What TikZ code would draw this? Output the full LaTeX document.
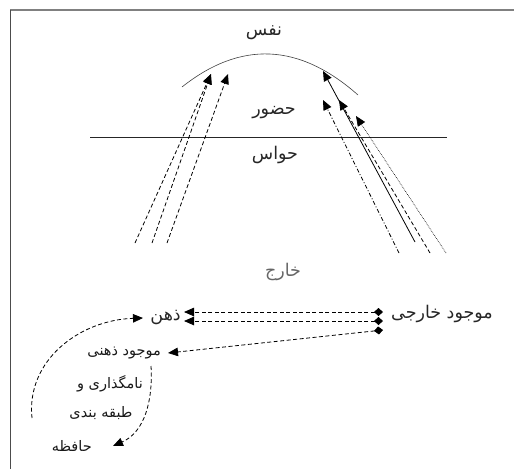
\documentclass[tikz,border=0pt]{standalone}
\usepackage{fontspec}
\usetikzlibrary{arrows.meta}
\newfontfamily\arabicfont[Script=Arabic]{DejaVu Sans}
\TeXXeTstate=1
\newcommand\prs[1]{{\arabicfont\beginR #1\endR}}
\tikzset{
  lbl/.style={inner sep=0pt, text=black!85, font=\fontsize{17.5}{19}\selectfont},
  slbl/.style={inner sep=0pt, text=black!90, font=\fontsize{14.5}{16}\selectfont},
  tip/.style={-{Triangle[length=10pt,width=8.5pt]}},
  dtip/.style={{Diamond[length=9pt,width=8pt]}-{Triangle[length=10pt,width=8.5pt]}},
  dsh/.style={dash pattern=on 4pt off 2.5pt, line width=0.8pt},
  dshdot/.style={dash pattern=on 4pt off 2pt on 1pt off 2pt, line width=0.8pt},
  dtt/.style={dash pattern=on 0.7pt off 1pt, line width=0.6pt},
}
\begin{document}
\begin{tikzpicture}[x=1pt,y=-1pt]
\useasboundingbox (0,0) rectangle (514,469);
% frame
\draw[gray, line width=1.5pt] (10,10) -- (514,10);
\draw[black!70, line width=1pt] (10,10) -- (10,469);

% labels
\node[lbl] (nafs) at (264,33) {\prs{نفس}};
\node[lbl] (hozur) at (274,113) {\prs{حضور}};
\node[lbl] (havas) at (275,155) {\prs{حواس}};
\node[lbl, text=black!60] (kharej) at (283,272) {\prs{خارج}};

% arc and line
\draw[black!75, line width=0.6pt] (182,87) .. controls (240.7,40.4) and (299.3,43) .. (358,95);
\draw[black!85, line width=0.6pt] (90,137) -- (447,137);

% left arrows
\coordinate (l1) at (135,243);
\coordinate (l2) at (152,243);
\coordinate (l3) at (167,243);
\coordinate (lh1) at (211,74);
\coordinate (lh2) at (228,74);
\draw[dsh, tip] (l1) -- (lh1);
\draw[dsh, tip] (l2) -- (lh1);
\draw[dsh, tip] (l3) -- (lh2);

% right arrows
\coordinate (r1) at (415,242);
\coordinate (r2) at (399,253);
\coordinate (r3) at (430,253);
\coordinate (r4) at (446,253);
\coordinate (rh1) at (323,71);
\coordinate (rh2) at (323,100);
\coordinate (rh3) at (339,100);
\coordinate (rh4) at (356,116);
\draw[line width=0.8pt, tip] (r1) -- (rh1);
\draw[dshdot, tip] (r2) -- (rh2);
\draw[dsh, tip] (r3) -- (rh3);
\draw[dtt, tip] (r4) -- (rh4);

% bottom part
\node[lbl, anchor=west] (mkh) at (391,314) {\prs{موجود خارجی}};
\node[lbl, anchor=east] (zehn) at (181,318) {\prs{ذهن}};
\node[slbl, anchor=east] (mz) at (161,353) {\prs{موجود ذهنی}};
\node[slbl] (nam) at (110,384) {\prs{نامگذاری و}};
\node[slbl] (tab) at (101,413) {\prs{طبقه بندی}};
\node[slbl, anchor=east] (haf) at (92,446) {\prs{حافظه}};

\coordinate (d1) at (383,312);
\coordinate (d2) at (383,321);
\coordinate (d3) at (383,330);
\draw[dsh, dtip] (d1) -- ([xshift=3pt]zehn.east |- d1);
\draw[dsh, dtip] (d2) -- ([xshift=3pt]zehn.east |- d2);
\draw[dsh, dtip] (d3) -- ([xshift=7pt]mz.east);

\coordinate (c1) at (151,366);
\draw[dsh, tip] (c1) .. controls (153,400) and (145,432) .. ([xshift=21pt]haf.east);
\coordinate (c2) at (32,418);
\draw[dsh, tip] (c2) .. controls (26,360) and (80,320) .. (143,318);
\end{tikzpicture}
\end{document}
